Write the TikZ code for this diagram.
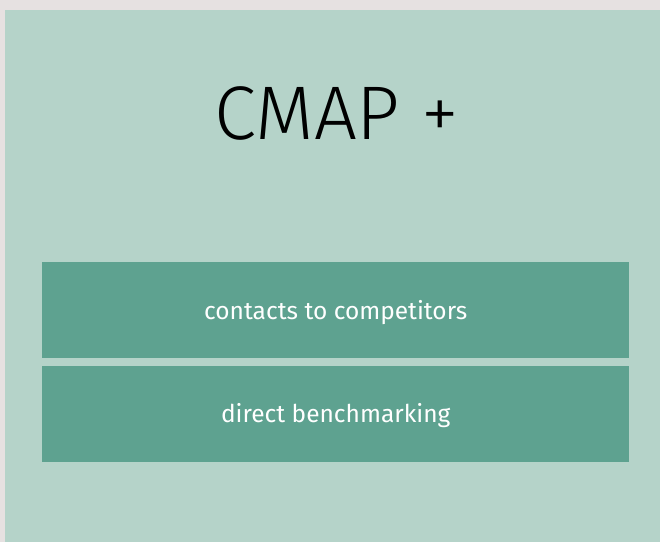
\documentclass[tikz,border=0pt]{standalone}
\usepackage{fontspec}
\setmainfont{Fira Sans}
\newfontfamily\titlefont{Fira Sans Light}
\usetikzlibrary{positioning}
\definecolor{edgeGray}{HTML}{E6E1E1}
\definecolor{paleTeal}{HTML}{B5D3C9}
\definecolor{deepTeal}{HTML}{5EA290}
\tikzset{
  every node/.style={font=\fontsize{24.5bp}{28bp}\selectfont},
  panel/.style={fill=paleTeal, draw=none, inner sep=0pt},
  band/.style={fill=deepTeal, draw=none, text=white, align=center,
               minimum width=587bp, minimum height=96bp, inner sep=0pt,
               text height=18bp, text depth=0bp},
  title/.style={font=\titlefont\fontsize{76bp}{84bp}\selectfont, text=black},
}
\begin{document}
\begin{tikzpicture}[x=1bp, y=-1bp]

% ------------------------------------------------------------ the page
\fill[edgeGray] (0,0) rectangle (660,542);
\useasboundingbox (0,0) rectangle (660,542);
\node[panel, anchor=north west, minimum width=655bp, minimum height=532bp]
  (page) at (5,10) {};

% ----------------------------------------------------------- the title
\node[title, anchor=base] (cmap) at (336.5,140) {CMAP +};

% ----------------------------------------------------------- the bands
\node[band, anchor=north west] (contacts) at (42,262) {contacts to competitors};
\node[band, below=7bp of contacts] (bench) {direct benchmarking};

\end{tikzpicture}
\end{document}
